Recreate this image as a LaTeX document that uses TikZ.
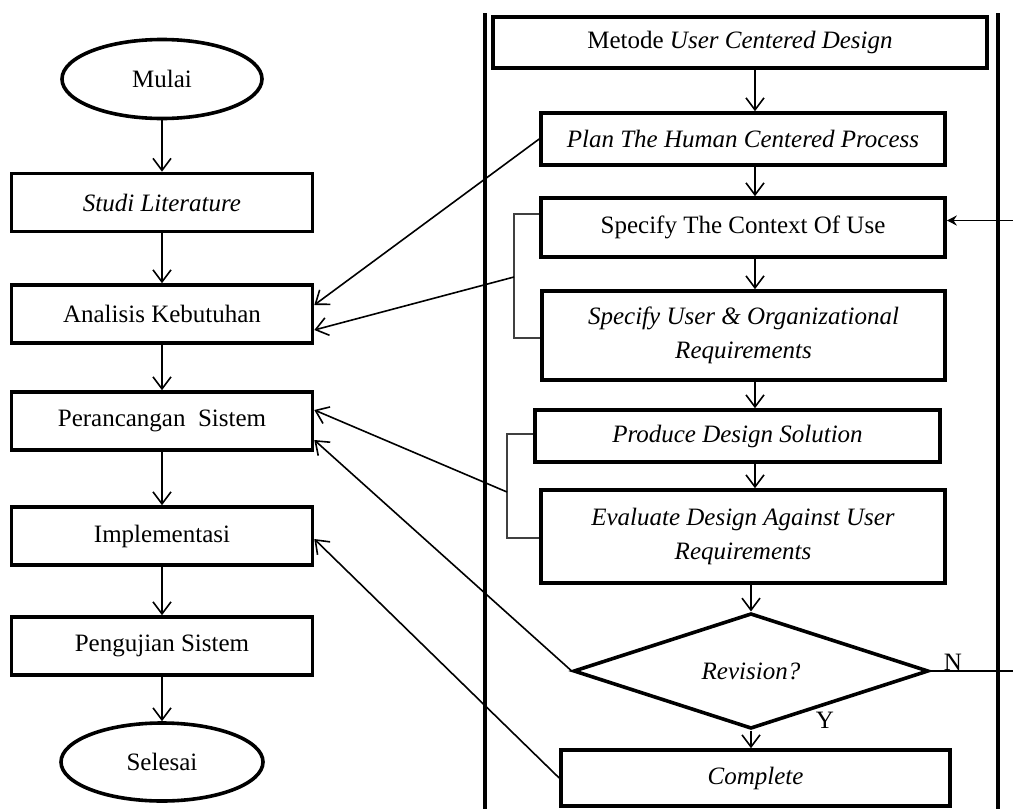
\documentclass[tikz,border=0pt]{standalone}
\usepackage{fontspec}
\setmainfont{Liberation Serif}
\usetikzlibrary{shapes.geometric,arrows.meta}

\begin{document}
\begin{tikzpicture}[x=0.5pt, y=-0.5pt,
  every node/.style={font=\fontsize{12.5}{17}\selectfont, inner sep=2pt, align=center},
  term/.style={draw, ellipse, line width=1.8pt, minimum width=100pt, minimum height=39.5pt},
  lbox/.style={draw, rectangle, line width=1.8pt, minimum width=150.5pt, minimum height=29pt},
  rbox/.style={draw, rectangle, line width=1.8pt},
  dec/.style={draw, diamond, line width=1.8pt, minimum width=177.5pt, minimum height=52pt, inner sep=0pt},
  arr/.style={-{Straight Barb[length=6pt,width=9pt]}, line width=0.8pt},
  brk/.style={line width=0.7pt, black!75},
  lane/.style={line width=1.7pt}]
  \useasboundingbox (0,0) rectangle (1013,809);
  \clip (0,0) rectangle (1013,809);
  \draw[lane] (485,13) -- (485,809);
  \draw[lane] (998,13) -- (998,809);

  \node[term] (mulai) at (162,79) {Mulai};
  \node[lbox] (studi) at (162,202.5) {\textit{Studi Literature}};
  \node[lbox] (ana) at (162,314) {Analisis Kebutuhan};
  \node[lbox] (ranc) at (162,421) {Perancangan\ \ Sistem};
  \node[lbox] (impl) at (162,536) {Implementasi};
  \node[lbox] (uji) at (162,646) {Pengujian Sistem};
  \node[term, minimum width=101pt, minimum height=39pt] (selesai) at (162,762) {Selesai};

  \node[rbox, minimum width=247pt, minimum height=25.5pt] (metode) at (740,42.5) {Metode \textit{User Centered Design}};
  \node[rbox, minimum width=202pt, minimum height=26pt] (plan) at (743,139) {\textit{Plan The Human Centered Process}};
  \node[rbox, minimum width=202pt, minimum height=29.5pt] (ctx) at (743,227.5) {Specify The Context Of Use};
  \node[rbox, minimum width=201.5pt, minimum height=44.5pt] (usr) at (743.5,335.5) {\textit{Specify User \& Organizational}\\\textit{Requirements}};
  \node[rbox, minimum width=202.5pt, minimum height=26pt] (prod) at (737.5,436) {\textit{Produce Design Solution}};
  \node[rbox, minimum width=202pt, minimum height=46.5pt] (eval) at (743,536.5) {\textit{Evaluate Design Against User}\\\textit{Requirements}};
  \node[dec] (rev) at (751,671) {\textit{Revision?}};
  \node[rbox, minimum width=194.5pt, minimum height=28pt] (done) at (755.5,778) {\textit{Complete}};
  \node (n) at (953,662) {N};
  \node (y) at (825,720) {Y};

  \coordinate (spine) at (755,0);
  \coordinate (back) at (1030,0);
  \coordinate (b1) at (514,277);
  \coordinate (b2) at (507,492);

  \draw[arr] (mulai) -- (studi);
  \draw[arr] (studi) -- (ana);
  \draw[arr] (ana) -- (ranc);
  \draw[arr] (ranc) -- (impl);
  \draw[arr] (impl) -- (uji);
  \draw[arr] (uji) -- (selesai);

  \draw[arr] (metode.south -| spine) -- (plan.north -| spine);
  \draw[arr] (plan.south -| spine) -- (ctx.north -| spine);
  \draw[arr] (ctx.south -| spine) -- (usr.north -| spine);
  \draw[arr] (usr.south -| spine) -- (prod.north -| spine);
  \draw[arr] (prod.south -| spine) -- (eval.north -| spine);
  \draw[arr] (eval.south -| rev) -- (rev.north);
  \draw[arr] (rev.south) -- (done.north -| rev);
  \draw[line width=0.8pt, -{Stealth[length=5pt,width=5pt]}] (rev.east) -- (rev.east -| back) |- ([yshift=3.5pt]ctx.east);

  \draw[brk] ([yshift=6.75pt]ctx.west) -| (b1) |- ([yshift=-1.25pt]usr.west);
  \draw[brk] ([yshift=1pt]prod.west) -| (b2) |- ([yshift=-0.75pt]eval.west);

  \draw[arr] (plan.west) -- ([yshift=4.5pt]ana.east);
  \draw[arr] (b1) -- ([yshift=-8pt]ana.east);
  \draw[arr] (b2) -- ([yshift=5.5pt]ranc.east);
  \draw[arr] (rev.west) -- ([yshift=-9.5pt]ranc.east);
  \draw[arr] (done.west) -- ([yshift=-1.5pt]impl.east);
\end{tikzpicture}
\end{document}
